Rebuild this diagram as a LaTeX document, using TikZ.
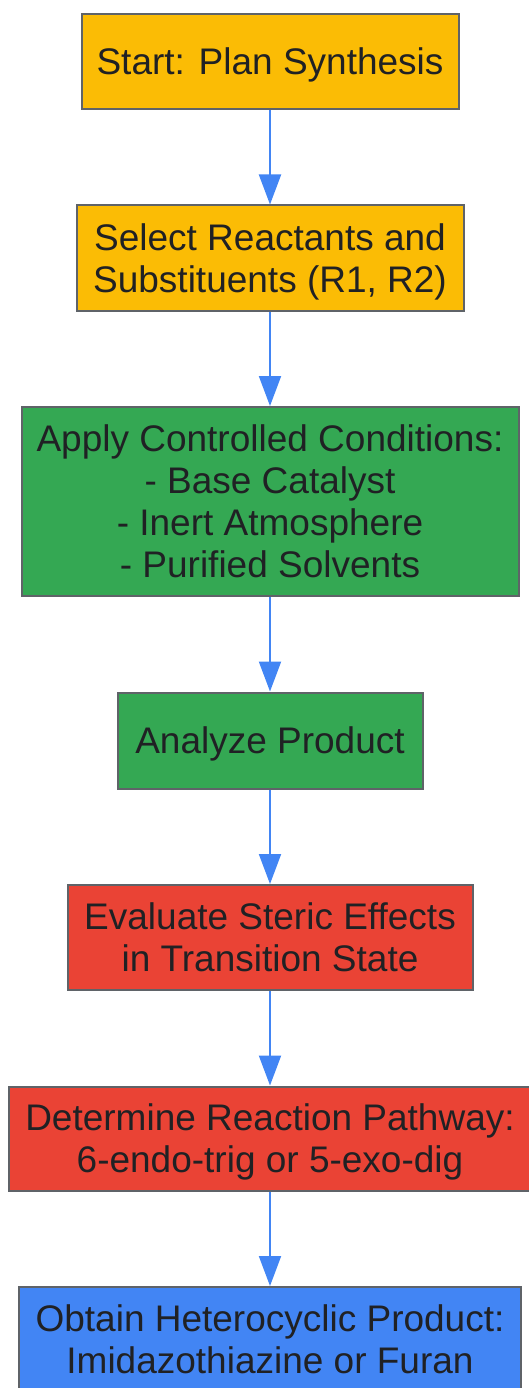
\documentclass[tikz,border=0pt]{standalone}
\usepackage{fontspec}
\setmainfont{Liberation Sans}
\usetikzlibrary{positioning,arrows.meta}
\definecolor{gyellow}{HTML}{FBBC05}
\definecolor{ggreen}{HTML}{34A853}
\definecolor{gred}{HTML}{EA4335}
\definecolor{gblue}{HTML}{4285F4}
\definecolor{boxgray}{HTML}{5F6368}
\definecolor{textdark}{HTML}{202124}
\begin{document}
\begin{tikzpicture}[x = 1pt, y = 1pt,
        stepbox/.style = {draw = boxgray, line width = 2pt, text = textdark,
            align = center, inner sep = 0pt, text depth = 0pt,
            font = \fontsize{37}{42}\selectfont},
        link/.style = {-{Triangle[length = 30pt, width = 22pt]},
            draw = gblue, line width = 2pt},
        node distance = 94.5pt]
    \useasboundingbox (0, 0) rectangle (529, -1388);

    \node [stepbox, fill = gyellow, minimum width = 377pt, minimum height = 95pt]
        (start) at (270, -61.5) {Start: Plan Synthesis};
    \node [stepbox, fill = gyellow, minimum width = 387pt, minimum height = 105pt,
        below = of start]
        (select) {Select Reactants and\\Substituents (R1, R2)};
    \node [stepbox, fill = ggreen, minimum width = 497pt, minimum height = 189pt,
        below = of select]
        (apply) {Apply Controlled Conditions:\\- Base Catalyst\\- Inert Atmosphere\\- Purified Solvents};
    \node [stepbox, fill = ggreen, minimum width = 305pt, minimum height = 96pt,
        below = of apply]
        (analyze) {Analyze Product};
    \node [stepbox, fill = gred, minimum width = 405pt, minimum height = 105pt,
        below = of analyze]
        (steric) {Evaluate Steric Effects\\in Transition State};
    \node [stepbox, fill = gred, minimum width = 522pt, minimum height = 104pt,
        below = of steric]
        (pathway) {Determine Reaction Pathway:\\6-endo-trig or 5-exo-dig};
    \node [stepbox, fill = gblue, minimum width = 502pt, minimum height = 105pt,
        below = of pathway]
        (product) {Obtain Heterocyclic Product:\\Imidazothiazine or Furan};

    \draw [link] (start) -- (select);
    \draw [link] (select) -- (apply);
    \draw [link] (apply) -- (analyze);
    \draw [link] (analyze) -- (steric);
    \draw [link] (steric) -- (pathway);
    \draw [link] (pathway) -- (product);
\end{tikzpicture}
\end{document}
